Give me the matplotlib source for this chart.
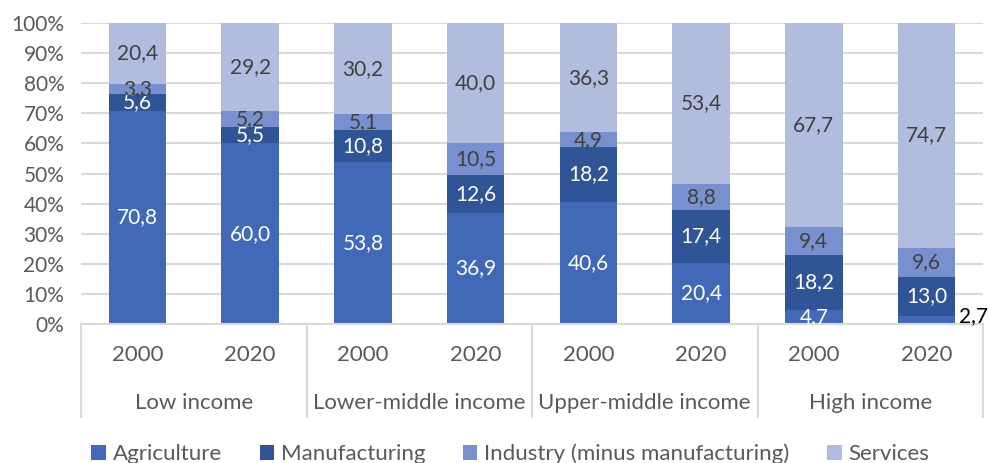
import matplotlib
matplotlib.use("Agg")
import numpy as np
import matplotlib.pyplot as plt
from matplotlib.lines import Line2D

plt.rcParams['font.family'] = ['Lato', 'DejaVu Sans']

groups = ['Low income', 'Lower-middle income', 'Upper-middle income', 'High income']
years = ['2000', '2020']
sectors = ['Agriculture', 'Manufacturing', 'Industry (minus manufacturing)', 'Services']

# shares in %, one entry per bar (group x year)
agriculture = [70.8, 60.0, 53.8, 36.9, 40.6, 20.4, 4.7, 2.7]
manufacturing = [5.6, 5.5, 10.8, 12.6, 18.2, 17.4, 18.2, 13.0]
industry = [3.3, 5.2, 5.1, 10.5, 4.9, 8.8, 9.4, 9.6]
services = [20.4, 29.2, 30.2, 40.0, 36.3, 53.4, 67.7, 74.7]

colors = ['#4169B8', '#2F5597', '#7990CF', '#B1BCDF']
label_colors = ['white', 'white', '#404040', '#404040']
grid_color = '#D9D9D9'
text_color = '#595959'

fig = plt.figure(figsize=(9.89, 4.63), dpi=100)
ax = fig.add_axes([81 / 989, 1 - 324 / 463, (983 - 81) / 989, 301 / 463])

x = np.arange(len(agriculture))
width = 0.51
bottom = np.zeros(len(x))
series = [agriculture, manufacturing, industry, services]
for vals, name, col, lc in zip(series, sectors, colors, label_colors):
    vals = np.array(vals)
    ax.bar(x, vals, width, bottom=bottom, color=col, label=name, zorder=2)
    for xi, b, v in zip(x, bottom, vals):
        if v < 3:
            # too thin for an inside label
            ax.text(xi + width / 2 + 0.03, v, f'{v:.1f}'.replace('.', ','),
                    ha='left', va='center', fontsize=15, color='black')
            continue
        ax.text(xi, b + v / 2, f'{v:.1f}'.replace('.', ','), ha='center',
                va='center', fontsize=15, color=lc, clip_on=True, zorder=3)
    bottom += vals

ax.set_xlim(-0.5, len(x) - 0.5)
ax.set_ylim(0, 100)
ax.set_yticks(np.arange(0, 101, 10))
ax.set_yticklabels([f'{t}%' for t in range(0, 101, 10)])
ax.yaxis.grid(True, color=grid_color, linewidth=1.5, zorder=0)
ax.tick_params(axis='y', length=0, labelsize=15, labelcolor=text_color, pad=12)
ax.set_xticks([])
for s in ['top', 'right', 'left']:
    ax.spines[s].set_visible(False)
ax.spines['bottom'].set_color(grid_color)
ax.spines['bottom'].set_linewidth(1.5)

# two-level category axis
trans = ax.get_xaxis_transform()
for i, xi in enumerate(x):
    ax.text(xi, -0.103, years[i % 2], transform=trans, ha='center', va='center',
            fontsize=16, color=text_color)
for g, name in enumerate(groups):
    ax.text(2 * g + 0.5, -0.262, name, transform=trans, ha='center', va='center',
            fontsize=16, color=text_color)
for g in range(len(groups) + 1):
    ax.add_line(Line2D([2 * g - 0.5, 2 * g - 0.5], [0, -0.31], transform=trans,
                       color=grid_color, linewidth=1.5, clip_on=False))

fig.legend(loc='center', bbox_to_anchor=(0.516, 0.02), ncol=4, frameon=False,
           fontsize=16, labelcolor=text_color, handlelength=0.65, handleheight=0.65,
           handletextpad=0.3, columnspacing=1.7)

fig.savefig('out.png', dpi=100)
